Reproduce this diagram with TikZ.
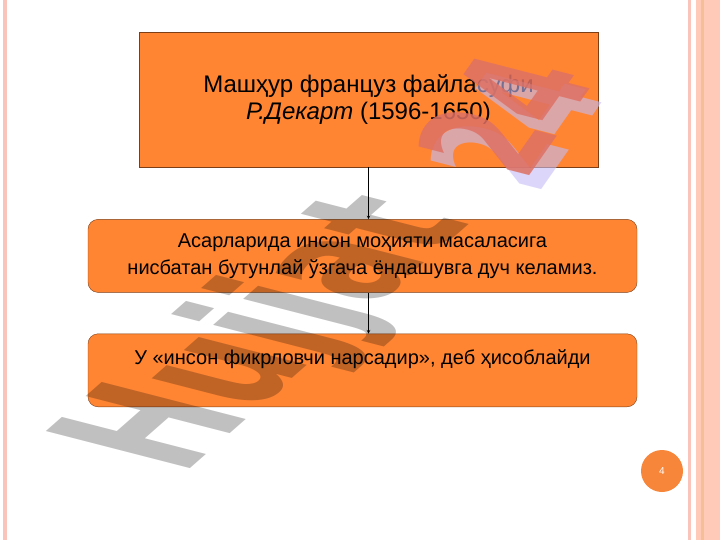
\documentclass[tikz,border=0pt]{standalone}
\usepackage{fontspec}
\setmainfont{Liberation Sans}
\newfontfamily\markfont{DejaVu Sans}
\usetikzlibrary{positioning}

\definecolor{boxorange}{RGB}{255,133,51}
\definecolor{boxline}{RGB}{125,62,22}
\definecolor{framepink}{RGB}{251,196,186}
\definecolor{bandpink}{RGB}{255,203,184}
\definecolor{bandtan}{RGB}{245,190,150}
\definecolor{markgrey}{RGB}{192,192,192}
\definecolor{markred}{RGB}{222,112,100}
\definecolor{marklilac}{RGB}{196,188,246}
\definecolor{pageorange}{RGB}{247,134,58}

\begin{document}
\begin{tikzpicture}[x=1pt,y=-1pt,>=stealth,semithick,
    title/.style={draw=boxline,fill=boxorange,thin,minimum width=459pt,minimum height=135pt,align=center,font=\fontsize{24}{27}\selectfont},
    idea/.style={draw=boxline,fill=boxorange,thin,rounded corners=10pt,minimum width=549pt,minimum height=73pt,align=center,font=\fontsize{20}{27}\selectfont},
    watermark/.style={transform shape,anchor=base west,inner sep=0pt,font=\markfont\fontsize{118}{118}\selectfont\bfseries},
    wmword/.style={watermark,cm={0.725,0.637,-1.675,0.431,(0,0)}},
    wmnumber/.style={watermark,cm={0.443,0.632,-1.34,0.345,(0,0)}}]
    \useasboundingbox (0,0) rectangle (720,540);
    % slide frame
    \fill[framepink] (3,0) rectangle (7,540);
    \fill[framepink] (688,0) rectangle (691,540);
    \fill[bandpink] (696,0) rectangle (720,540);
    \fill[bandtan] (701,0) rectangle (704,540);

    \node[title] (descartes) at (368.5,99.5) {Машҳур француз файласуфи\\ \textit{Р.Декарт} (1596-1650)};
    \node[idea] (essence) [below=52pt of descartes,xshift=-6pt] {Асарларида инсон моҳияти масаласига\\ нисбатан бутунлай ўзгача ёндашувга дуч келамиз.};
    \node[idea] (thinking) [below=41pt of essence] {У «инсон фикрловчи нарсадир», деб ҳисоблайди\\ ~};

    \draw[->] (descartes.south) -- (descartes.south |- essence.north);
    \draw[->] (descartes.south |- essence.south) -- (descartes.south |- thinking.north);

    \node[circle,fill=pageorange,minimum size=42pt,text=white,font=\fontsize{10}{12}\selectfont] (pagenum) at (662,471) {4};

    % watermark
    \begin{scope}[blend mode=multiply,shift={(182,476)}]
        \node[wmword,text=markgrey] (hujjat) at (0,0) {Hujjat};
    \end{scope}
    \begin{scope}[shift={(537,196)}]
        \node[wmnumber,text=marklilac,opacity=0.6] (shade) at (0,0) {24};
    \end{scope}
    \begin{scope}[shift={(525,182)}]
        \node[wmnumber,text=markred,opacity=0.85] (number) at (0,0) {24};
    \end{scope}
\end{tikzpicture}
\end{document}
